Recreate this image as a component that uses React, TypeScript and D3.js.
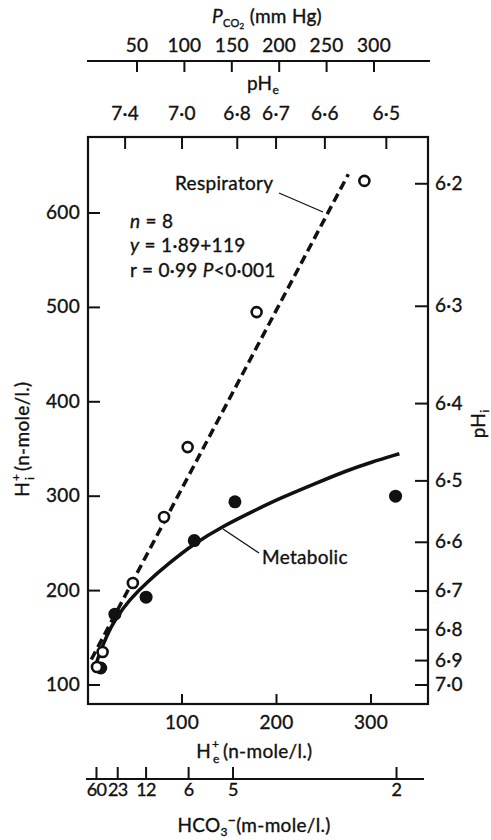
import React from 'react';
import * as d3 from 'd3';

// ---------- data ----------
// bottom axis: H_e+ (n-mole/l.)
const heTicks = [100, 200, 300];
// left axis: H_i+ (n-mole/l.)
const hiTicks = [100, 200, 300, 400, 500, 600];
// right axis: pH_i
const phiTicks = [6.2, 6.3, 6.4, 6.5, 6.6, 6.7, 6.8, 6.9, 7.0];
const phiLabels = ['6·2', '6·3', '6·4', '6·5', '6·6', '6·7', '6·8', '6·9', '7·0'];
// top axis: P_CO2 (mm Hg)
const pco2Ticks = [50, 100, 150, 200, 250, 300];
// pH_e labels
const pheTicks = [7.4, 7.0, 6.8, 6.7, 6.6, 6.5];
const pheLabels = ['7·4', '7·0', '6·8', '6·7', '6·6', '6·5'];
// bottom-most axis: HCO3- (m-mole/l.), placed at the H_e of metabolic points
const hco3Labels = ['60', '23', '12', '6', '5', '2'];
const hco3AtHe = [9.5, 32, 62, 107, 154, 327];

// respiratory (open circles)
const respHe = [10, 16, 48, 81, 106, 179, 293];
const respHi = [119, 135, 208, 278, 352, 495, 634];
// metabolic (filled circles)
const metHe = [14, 29, 62, 113, 156, 326];
const metHi = [118, 175, 193, 253, 294, 300];

// respiratory regression line (dashed), y = 1.89x + 119
const respLineHe = [4, 276];
const respLineHi = [127, 641];
// metabolic curve (solid)
const metCurveHe = [7, 10, 20, 30, 45, 63, 85, 113, 143, 175, 204, 240, 274, 300, 330];
const metCurveHi = [115, 126, 152, 171, 191, 209, 228, 250, 268, 284, 298, 313, 327, 336, 345];

const FONT = 'Lato, "Open Sans", sans-serif';

export default function App() {
  const W = 491, H = 840;
  const x = d3.scaleLinear().domain([0, 360]).range([87.5, 87.5 + 360 * 0.945]);
  const y = d3.scaleLinear().domain([100, 600]).range([685, 685 - 500 * 0.944]);
  const pco2 = d3.scaleLinear().domain([0, 300]).range([89.6, 374]);
  const hFromPH = (p: number) => Math.pow(10, 9 - p);

  const left = 88, right = 428, top = 137, bottom = 704;
  const tick = 12;

  const respLine = d3.line<number>().x((d, i) => x(respLineHe[i])).y((d) => y(d));
  const metLine = d3
    .line<number>()
    .x((d, i) => x(metCurveHe[i]))
    .y((d) => y(d))
    .curve(d3.curveBasis);

  const axisTop = 61;
  const hco3Y = 779;

  return (
    <svg
      width={W}
      height={H}
      style={{ position: 'absolute', left: 0, top: 0, background: '#fff' }}
      fontFamily={FONT}
      fontSize={19}
      letterSpacing={0.3}
      fill="#111"
    >
      <rect x={0} y={0} width={W} height={H} fill="#fff" />
      <g stroke="#111" strokeWidth={0.35}>
        {/* ---- top P_CO2 axis ---- */}
        <text x={267} y={23} textAnchor="middle">
          <tspan fontStyle="italic">P</tspan>
          <tspan fontSize={11} dy={4}>CO</tspan>
          <tspan fontSize={8} dy={2}>2</tspan>
          <tspan dy={-6}> (mm Hg)</tspan>
        </text>
        {pco2Ticks.map((t) => (
          <text key={'pt' + t} x={pco2(t)} y={52} textAnchor="middle">{t}</text>
        ))}
        <text x={263} y={90} textAnchor="middle">
          pH<tspan fontSize={12} dy={4}>e</tspan>
        </text>
        {pheTicks.map((p, i) => (
          <text key={'phe' + p} x={x(hFromPH(p))} y={120} textAnchor="middle">
            {pheLabels[i]}
          </text>
        ))}
        {hiTicks.map((t) => (
          <text key={'lt' + t} x={80} y={y(t) + 6} textAnchor="end">{t}</text>
        ))}
        {phiTicks.map((p, i) => (
          <text key={'rt' + p} x={435} y={y(hFromPH(p)) + 6} textAnchor="start">{phiLabels[i]}</text>
        ))}
        {heTicks.map((t) => (
          <text key={'bt' + t} x={x(t)} y={729} textAnchor="middle">{t}</text>
        ))}
        {/* H_e+ title split in parts */}
        <text x={211} y={758} textAnchor="end">H</text>
        <text x={212} y={748} fontSize={12}>+</text>
        <text x={213} y={763} fontSize={12}>e</text>
        <text x={223} y={758}>(n-mole/l.)</text>
        {/* H_i+ left title */}
        <g transform="translate(29,429) rotate(-90)">
          <text x={-53} y={0} textAnchor="end">H</text>
          <text x={-52} y={-9} fontSize={12}>+</text>
          <text x={-51} y={5} fontSize={12}>i</text>
          <text x={-42} y={0}>(n-mole/l.)</text>
        </g>
        <text transform="translate(485,424) rotate(-90)" textAnchor="middle">
          pH<tspan fontSize={12} dy={4}>i</tspan>
        </text>
        {hco3Labels.map((l, i) => (
          <text key={'ht' + i} x={x(hco3AtHe[i])} y={796} textAnchor="middle" fontSize={18} letterSpacing={-0.6}>{l}</text>
        ))}
        <text x={254} y={832} textAnchor="middle">
          HCO<tspan fontSize={12} dy={4}>3</tspan>
          <tspan fontSize={14} dy={-11}>−</tspan>
          <tspan dy={7}>(m-mole/l.)</tspan>
        </text>
        {/* annotations */}
        <text x={175} y={190}>Respiratory</text>
        <text x={130} y={228}>
          <tspan fontStyle="italic">n</tspan> = 8
        </text>
        <text x={130} y={252}>
          <tspan fontStyle="italic">y</tspan> = 1·89+119
        </text>
        <text x={130} y={277}>
          r = 0·99 <tspan fontStyle="italic">P</tspan>&lt;0·001
        </text>
        <text x={262} y={564}>Metabolic</text>
      </g>

      {/* ---- axes lines & ticks ---- */}
      <line x1={87} x2={430} y1={axisTop} y2={axisTop} stroke="#111" strokeWidth={2.2} />
      {pco2Ticks.map((t) => (
        <line key={'p' + t} x1={pco2(t)} x2={pco2(t)} y1={axisTop} y2={axisTop + 11} stroke="#111" strokeWidth={2} />
      ))}
      <rect x={left} y={top} width={right - left} height={bottom - top} fill="none" stroke="#111" strokeWidth={2.2} />
      {pheTicks.map((p) => (
        <line key={'tt' + p} x1={x(hFromPH(p))} x2={x(hFromPH(p))} y1={top} y2={top + tick} stroke="#111" strokeWidth={2} />
      ))}
      {hiTicks.map((t) => (
        <line key={'l' + t} x1={left} x2={left + tick} y1={y(t)} y2={y(t)} stroke="#111" strokeWidth={2} />
      ))}
      {phiTicks.map((p) => (
        <line key={'r' + p} x1={right - 13} x2={right} y1={y(hFromPH(p))} y2={y(hFromPH(p))} stroke="#111" strokeWidth={2} />
      ))}
      {heTicks.map((t) => (
        <line key={'b' + t} x1={x(t)} x2={x(t)} y1={bottom} y2={bottom - 10} stroke="#111" strokeWidth={2} />
      ))}
      <line x1={86} x2={424} y1={hco3Y} y2={hco3Y} stroke="#111" strokeWidth={2.2} />
      {hco3AtHe.map((h, i) => (
        <line key={'h' + i} x1={x(h)} x2={x(h)} y1={hco3Y} y2={hco3Y - 12} stroke="#111" strokeWidth={2} />
      ))}

      {/* ---- lines ---- */}
      <path d={respLine(respLineHi) || ''} fill="none" stroke="#111" strokeWidth={3.5} strokeDasharray="9,5" />
      <path d={metLine(metCurveHi) || ''} fill="none" stroke="#111" strokeWidth={3.5} />
      <line x1={279} y1={193} x2={323} y2={212} stroke="#111" strokeWidth={1.3} />
      <line x1={223} y1={529} x2={259} y2={553} stroke="#111" strokeWidth={1.3} />

      {/* ---- points ---- */}
      {metHe.map((h, i) => (
        <circle key={'m' + i} cx={x(h)} cy={y(metHi[i])} r={6.5} fill="#111" />
      ))}
      {respHe.map((h, i) => (
        <circle key={'o' + i} cx={x(h)} cy={y(respHi[i])} r={5} fill="#fff" stroke="#111" strokeWidth={2.6} />
      ))}
    </svg>
  );
}
